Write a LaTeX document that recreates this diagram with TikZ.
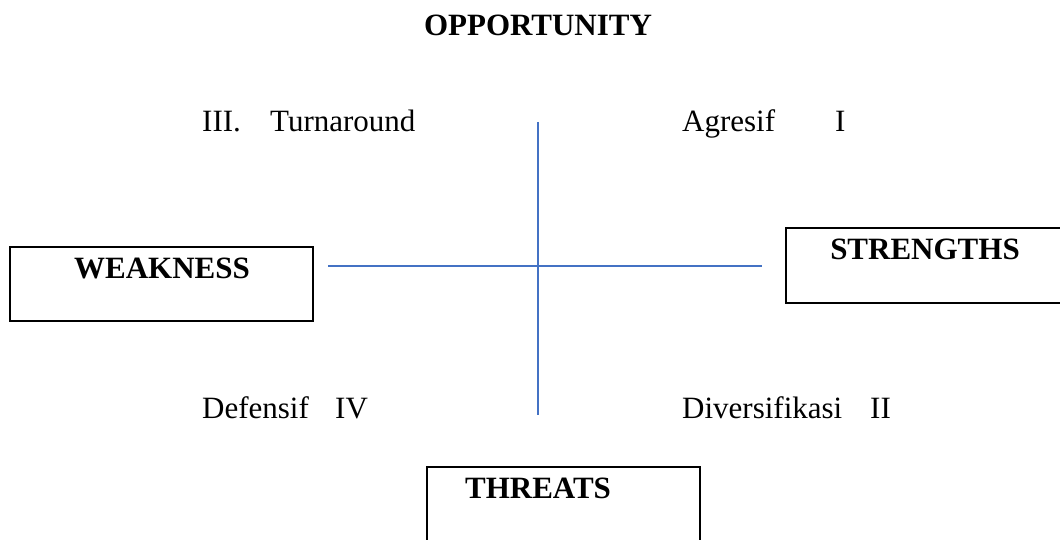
\documentclass[tikz,border=0pt]{standalone}
\usepackage{fontspec}
\setmainfont{Liberation Serif}
\usepackage{tikz}
\usetikzlibrary{positioning}
\definecolor{axisblue}{HTML}{4472C4}

\begin{document}
\begin{tikzpicture}[x=1pt,y=-1pt,
   every node/.style={inner sep=0pt,font=\fontsize{31}{37}\selectfont},
   label node/.style={anchor=base west},
   head node/.style={anchor=base,font=\fontsize{31}{37}\selectfont\bfseries},
   quad box/.style={draw=black,line width=2pt},
   axis line/.style={draw=axisblue,line width=1.5pt}]
\useasboundingbox (0,0) rectangle (1060,540);
\clip (0,0) rectangle (1060,540);
% axes
\coordinate (top) at (538,122);
\coordinate (bottom) at (538,415);
\coordinate (left) at (328,266);
\coordinate (right) at (762,266);
\draw[axis line] (top) -- (bottom);
\draw[axis line] (left) -- (right);
% boxes
\draw[quad box] (10,247) rectangle (313,321);
\draw[quad box] (786,228) rectangle (1075,303);
\draw[quad box] (427,467) rectangle (700,560);
\node[head node] (opp) at (538,36) {OPPORTUNITY};
\node[head node] (weak) at (162,278) {WEAKNESS};
\node[head node] (str) at (925,259) {STRENGTHS};
\node[head node] (thr) at (538,498) {THREATS};
% quadrants
\node[label node] (q3) at (202,132) {III.};
\node[label node] (turn) at (270,132) {Turnaround};
\node[label node] (agr) at (682,132) {Agresif};
\node[label node] (q1) at (835,132) {I};
\node[label node] (def) at (202,418) {Defensif};
\node[label node] (q4) at (335,418) {IV};
\node[label node] (div) at (682,418) {Diversifikasi};
\node[label node] (q2) at (870,418) {II};
\end{tikzpicture}
\end{document}
